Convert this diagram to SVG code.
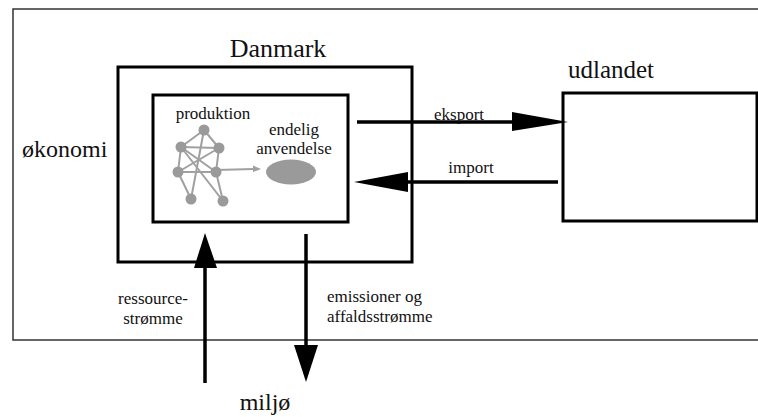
<svg xmlns="http://www.w3.org/2000/svg" width="758" height="417" viewBox="0 0 758 417">
<style>
  text { font-family: "Liberation Serif", "Times New Roman", serif; fill: #111; }
  .big { font-size: 25px; }
  .lbl { font-size: 17px; }
  .box { fill: none; stroke: #000; stroke-width: 3; }
  .flow { stroke: #000; stroke-width: 3.5; fill: none; }
  .head { fill: #000; stroke: none; }
  .edge { stroke: #a0a0a0; stroke-width: 2; fill: none; }
  .nd { fill: #9a9a9a; }
</style>
<rect width="758" height="417" fill="#fff"/>

<g id="frame">
  <rect x="13" y="9" width="760" height="331" fill="none" stroke="#333" stroke-width="1.5"/>
  <text class="big" x="22" y="157" style="font-size:24px">økonomi</text>
</g>

<g id="danmark">
  <rect class="box" x="118" y="67" width="294" height="195"/>
  <text class="big" x="278" y="57" text-anchor="middle" style="font-size:26px">Danmark</text>
</g>

<g id="inner">
  <rect class="box" x="153" y="95" width="195" height="127"/>
  <text class="lbl" x="213" y="119" text-anchor="middle">produktion</text>
  <text class="lbl" x="294" y="135" text-anchor="middle">endelig</text>
  <text class="lbl" x="294" y="154" text-anchor="middle">anvendelse</text>
</g>

<g id="network">
  <line class="edge" x1="204" y1="130" x2="181" y2="147"/>
  <line class="edge" x1="204" y1="130" x2="219" y2="148"/>
  <line class="edge" x1="204" y1="130" x2="191" y2="199"/>
  <line class="edge" x1="181" y1="147" x2="219" y2="148"/>
  <line class="edge" x1="181" y1="147" x2="178" y2="172"/>
  <line class="edge" x1="181" y1="147" x2="216" y2="172"/>
  <line class="edge" x1="181" y1="147" x2="223" y2="201"/>
  <line class="edge" x1="219" y1="148" x2="178" y2="172"/>
  <line class="edge" x1="219" y1="148" x2="216" y2="172"/>
  <line class="edge" x1="178" y1="172" x2="216" y2="172"/>
  <line class="edge" x1="178" y1="172" x2="191" y2="199"/>
  <line class="edge" x1="216" y1="172" x2="223" y2="201"/>
  <line class="edge" x1="216" y1="170" x2="254" y2="169"/>
  <polygon points="253,165.5 261,169 253,172" fill="#a0a0a0"/>
  <circle class="nd" cx="204" cy="130" r="5.5"/>
  <circle class="nd" cx="181" cy="147" r="5.5"/>
  <circle class="nd" cx="219" cy="148" r="5.5"/>
  <circle class="nd" cx="178" cy="172" r="5.5"/>
  <circle class="nd" cx="216" cy="172" r="5.5"/>
  <circle class="nd" cx="191" cy="199" r="5.5"/>
  <circle class="nd" cx="223" cy="201" r="5.5"/>
  <ellipse cx="291" cy="172" rx="25" ry="12.5" fill="#9a9a9a"/>
</g>

<g id="udlandet">
  <rect class="box" x="563" y="93" width="194" height="128"/>
  <text class="big" x="611" y="78" text-anchor="middle">udlandet</text>
</g>

<g id="miljo">
  <text class="big" x="265" y="410" text-anchor="middle" style="font-size:24px">miljø</text>
</g>

<g id="connectors">
  <line class="flow" x1="357" y1="122" x2="514" y2="122"/>
  <polygon class="head" points="512,112 568,122 512,131"/>
  <text class="lbl" x="459" y="120" text-anchor="middle">eksport</text>

  <line class="flow" x1="558" y1="182" x2="406" y2="182"/>
  <polygon class="head" points="408,172 354,182 408,192"/>
  <text class="lbl" x="471" y="173" text-anchor="middle">import</text>

  <line class="flow" x1="205" y1="383" x2="205" y2="266"/>
  <polygon class="head" points="194,268 205,233 217,268"/>
  <text class="lbl" x="153" y="304" text-anchor="middle">ressource-</text>
  <text class="lbl" x="153" y="324" text-anchor="middle">strømme</text>

  <line class="flow" x1="306" y1="234" x2="306" y2="347"/>
  <polygon class="head" points="294,345 306,382 318,345"/>
  <text class="lbl" x="327" y="302">emissioner og</text>
  <text class="lbl" x="327" y="322">affaldsstrømme</text>
</g>
</svg>
